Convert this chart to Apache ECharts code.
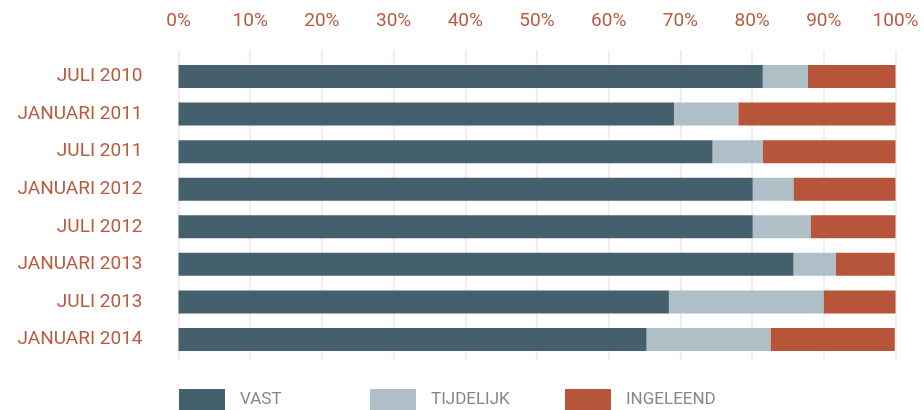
<!DOCTYPE html>
<html>
<head>
<meta charset="utf-8">
<script src="https://cdn.jsdelivr.net/npm/echarts@6/dist/echarts.min.js"></script>
<style>
  html, body { margin: 0; padding: 0; background: #ffffff; }
  #chart { width: 924px; height: 410px; }
</style>
</head>
<body>
<div id="chart"></div>
<script>
// Periods, top to bottom
const categories = ['JULI 2010', 'JANUARI 2011', 'JULI 2011', 'JANUARI 2012',
                    'JULI 2012', 'JANUARI 2013', 'JULI 2013', 'JANUARI 2014'];

// Share of staff per contract type (%)
const vast      = [81.5, 69.1, 74.5, 80.1, 80.1, 85.8, 68.4, 65.3];
const tijdelijk = [6.3, 9.0, 7.0, 5.7, 8.1, 5.9, 21.6, 17.3];
const ingeleend = [12.2, 21.9, 18.5, 14.2, 11.8, 8.2, 10.0, 17.3];

const seriesNames = ['VAST', 'TIJDELIJK', 'INGELEEND'];
const colors = ['#44606c', '#afbfc7', '#b65539'];

const labelColor = '#b85b3f';
const legendColor = '#8c8580';
const font = 'Roboto, "Noto Sans", sans-serif';

const chart = echarts.init(document.getElementById('chart'), null, { renderer: 'canvas' });

const legendLefts = [179, 370, 565];

chart.setOption({
  animation: false,
  backgroundColor: '#ffffff',
  grid: [
    // grid 0: bars
    { left: 178.5, width: 717, top: 57.7, height: 300.6 },
    // grid 1: scale with gridlines and the percentage labels
    { left: 178.5, width: 717, top: 50, height: 310 }
  ],
  legend: seriesNames.map((n, i) => ({
    data: [n],
    left: legendLefts[i],
    top: 389,
    padding: 0,
    itemWidth: 46,
    itemHeight: 22,
    itemGap: 0,
    icon: 'rect',
    textStyle: { color: legendColor, fontSize: 17, fontFamily: font, padding: [0, 0, 0, 10] },
    selectedMode: false
  })),
  xAxis: [
    {
      gridIndex: 0, type: 'value', min: 0, max: 100,
      show: false
    },
    {
      gridIndex: 1, type: 'value', min: 0, max: 100, interval: 10,
      position: 'top',
      axisLine: { show: false },
      axisTick: { show: false },
      axisLabel: {
        color: labelColor, fontSize: 19, fontFamily: font, margin: 19,
        formatter: v => v + '%'
      },
      splitLine: { show: true, lineStyle: { color: '#efe8e6', width: 1.5 } }
    }
  ],
  yAxis: [
    {
      gridIndex: 0, type: 'category', data: categories, inverse: true,
      axisLine: { show: false },
      axisTick: { show: false },
      axisLabel: { color: labelColor, fontSize: 19, fontFamily: font, margin: 36, padding: [6, 0, 0, 0] }
    },
    {
      gridIndex: 1, type: 'value', show: false
    }
  ],
  series: [vast, tijdelijk, ingeleend].map((d, i) => ({
    name: seriesNames[i],
    type: 'bar',
    stack: 'total',
    xAxisIndex: 0,
    yAxisIndex: 0,
    barWidth: 23,
    data: d,
    itemStyle: { color: colors[i] },
    emphasis: { disabled: true }
  }))
});
</script>
</body>
</html>
